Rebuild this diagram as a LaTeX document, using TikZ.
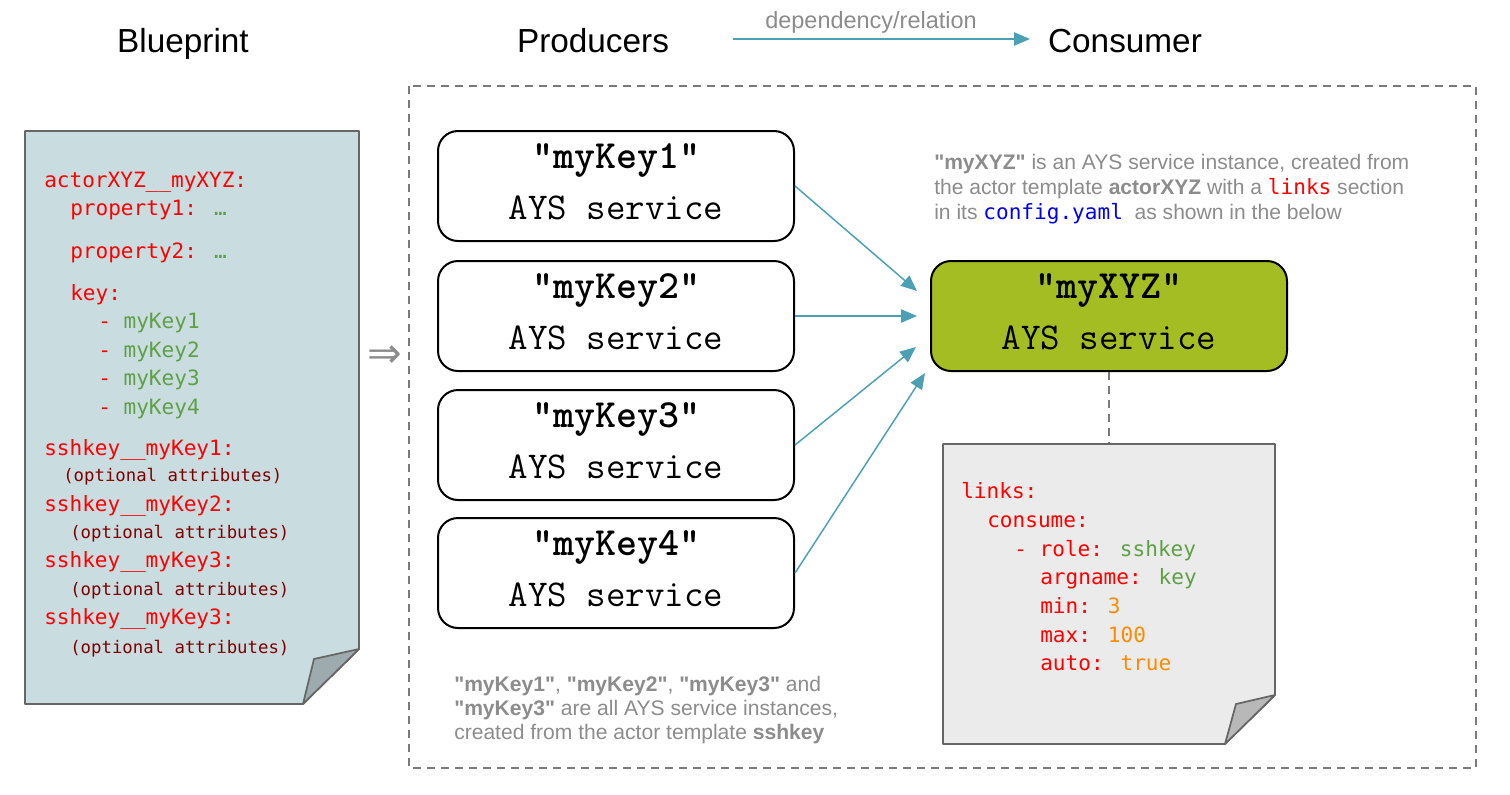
\documentclass[tikz,border=0pt]{standalone}
\usepackage{fontspec}
\setmainfont{Liberation Sans}[Ligatures=TeXOff]
\newfontfamily\codefont{DejaVu Sans Mono}
\newfontfamily\symfont{DejaVu Sans}
\usetikzlibrary{arrows.meta}
\definecolor{flowc}{HTML}{4BA0B3}
\definecolor{cred}{HTML}{FF0000}
\definecolor{cgreen}{HTML}{5FA046}
\definecolor{cdred}{HTML}{7F0000}
\definecolor{corange}{HTML}{FF8C00}
\definecolor{cblue}{HTML}{0000F0}
\definecolor{anngray}{HTML}{8C8C8C}
\definecolor{framegray}{HTML}{7A7A7A}
\definecolor{paperA}{HTML}{C9DCE0}
\definecolor{foldA}{HTML}{9EABAE}
\definecolor{paperB}{HTML}{EBEBEB}
\definecolor{foldB}{HTML}{B8B8B8}
\definecolor{consc}{HTML}{A3BD23}
\definecolor{edgegray}{HTML}{666666}
\tikzset{
  title/.style={font=\fontsize{25}{30}\selectfont, anchor=base, inner sep=0},
  svc/.style={draw=black, line width=1.5pt, rounded corners=15pt, minimum width=267pt, minimum height=82.5pt, inner sep=0},
  svct/.style={font=\ttfamily\bfseries\fontsize{30}{36}\selectfont, anchor=base, inner sep=0},
  svcs/.style={font=\ttfamily\fontsize{28.4}{34}\selectfont, anchor=base, inner sep=0},
  code/.style={font=\codefont\fontsize{15.8}{19}\selectfont, anchor=base west, inner sep=0, text=cred},
  codesmall/.style={font=\codefont\fontsize{13}{16}\selectfont, anchor=base west, inner sep=0, text=cdred},
  ann/.style={font=\fontsize{15.8}{18.75}\selectfont, anchor=base west, inner sep=0, text=anngray},
  flow/.style={draw=flowc, line width=1.1pt, -{Triangle[length=12pt,width=10pt]}},
  paper/.style={draw=edgegray, line width=1.3pt, line join=round},
  dashline/.style={draw=framegray, line width=1.3pt, dash pattern=on 6pt off 4.5pt},
}
\newcommand\svcbox[5]{%
  \node[svc, fill=#5] (#1) at (#2,#3+55) {};
  \node[svct] (#1t) at (#2,#3+37) {"#4"};
  \node[svcs] (#1s) at (#2,#3+88) {AYS service};
}
\begin{document}
\begin{tikzpicture}[x=0.75pt,y=-0.75pt]
\useasboundingbox (0,0) rectangle (1510,794);
\fill[white] (0,0) rectangle (1510,794);

% titles and legend
\node[title] (tB) at (183,52) {Blueprint};
\node[title] (tP) at (593,52) {Producers};
\node[title] (tC) at (1125,52) {Consumer};
\coordinate (l1) at (733,39);
\coordinate (l2) at (1030,39);
\draw[flow] (l1) -- (l2);
\node[font=\fontsize{17.6}{20}\selectfont, text=anngray, anchor=base, inner sep=0] (dep) at (871,28) {dependency/relation};

% dashed frame
\draw[dashline] (409,86) rectangle (1476,768);

% blueprint paper
\draw[paper, fill=paperA] (25,131) -- (359,131) -- (359,649) -- (303,704) -- (25,704) -- cycle;
\draw[paper, fill=foldA] (359,649) -- (314,659) -- (303,704) -- cycle;

\node[code] (b1) at (44,187) {actorXYZ\_\_myXYZ:};
\node[code] (b2) at (70,215) {property1: \textcolor{cgreen}{…}};
\node[code] (b3) at (70,258) {property2: \textcolor{cgreen}{…}};
\node[code] (b4) at (70,300) {key:};
\node[code] (b5) at (98,328) {- \textcolor{cgreen}{myKey1}};
\node[code] (b6) at (98,357) {- \textcolor{cgreen}{myKey2}};
\node[code] (b7) at (98,385) {- \textcolor{cgreen}{myKey3}};
\node[code] (b8) at (98,414) {- \textcolor{cgreen}{myKey4}};
\node[code] (b9) at (44,455) {sshkey\_\_myKey1:};
\node[codesmall] (b10) at (63,481) {(optional attributes)};
\node[code] (b11) at (44,511) {sshkey\_\_myKey2:};
\node[codesmall] (b12) at (70,538) {(optional attributes)};
\node[code] (b13) at (44,567) {sshkey\_\_myKey3:};
\node[codesmall] (b14) at (70,595) {(optional attributes)};
\node[code] (b15) at (44,624) {sshkey\_\_myKey3:};
\node[codesmall] (b16) at (70,653) {(optional attributes)};

% implies arrow
\node[font=\symfont\fontsize{31}{31}\selectfont, text=anngray, inner sep=0] (imp) at (385,357) {⇒};

% producers
\svcbox{p1}{616}{131}{myKey1}{white}
\svcbox{p2}{616}{261}{myKey2}{white}
\svcbox{p3}{616}{390}{myKey3}{white}
\svcbox{p4}{616}{518}{myKey4}{white}

% consumer
\svcbox{cons}{1109}{261}{myXYZ}{consc}

% flows
\coordinate (t1) at (917,291);
\coordinate (t2) at (917,316);
\coordinate (t3) at (916,347);
\coordinate (t4) at (925,373);
\draw[flow] (p1.east) -- (t1);
\draw[flow] (p2.east) -- (t2);
\draw[flow] (p3.east) -- (t3);
\draw[flow] (p4.east) -- (t4);

% consumer config paper
\coordinate (cp) at (1109,444);
\draw[dashline] (cons.south) -- (cp);
\draw[paper, fill=paperB] (943,444) -- (1275,444) -- (1275,695) -- (1225,744) -- (943,744) -- cycle;
\draw[paper, fill=foldB] (1275,695) -- (1236,704) -- (1225,744) -- cycle;

\node[code] (c1) at (961,498) {links:};
\node[code] (c2) at (987,527) {consume:};
\node[code] (c3) at (1014,556) {- role: \textcolor{cgreen}{sshkey}};
\node[code] (c4) at (1040,584) {argname: \textcolor{cgreen}{key}};
\node[code] (c5) at (1040,613) {min: \textcolor{corange}{3}};
\node[code] (c6) at (1040,642) {max: \textcolor{corange}{100}};
\node[code] (c7) at (1040,670) {auto: \textcolor{corange}{true}};

% annotations
\node[ann] (a1) at (934,169) {\textbf{"myXYZ"} is an AYS service instance, created from};
\node[ann] (a2) at (934,194) {the actor template \textbf{actorXYZ} with a {\codefont\textcolor{cred}{links}} section};
\node[ann] (a3) at (934,219) {in its {\codefont\textcolor{cblue}{config.yaml}}\ \ as shown in the below};

\node[ann] (n1) at (454,691) {\textbf{"myKey1"}, \textbf{"myKey2"}, \textbf{"myKey3"} and};
\node[ann] (n2) at (454,715) {\textbf{"myKey3"} are all AYS service instances,};
\node[ann] (n3) at (454,739) {created from the actor template \textbf{sshkey}};
\end{tikzpicture}
\end{document}
